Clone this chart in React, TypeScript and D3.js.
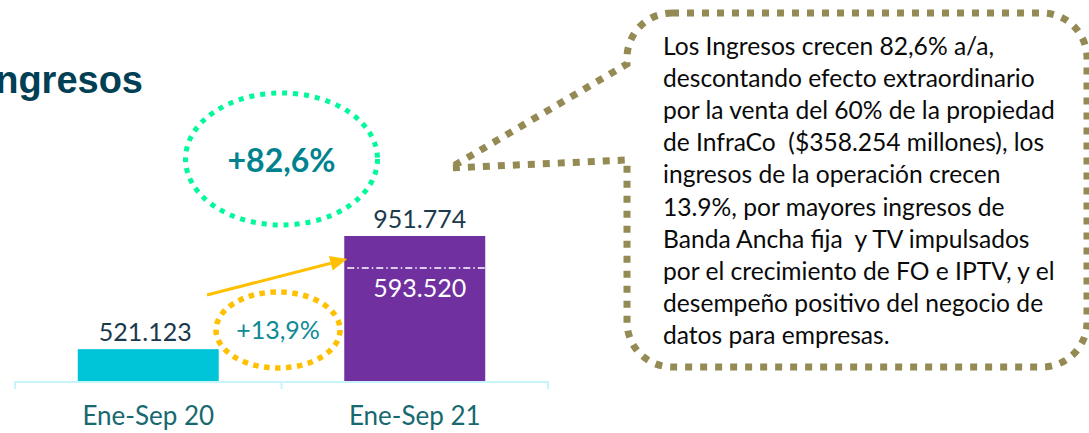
import React from "react";
import * as d3 from "d3";

const categories = ["Ene-Sep 20", "Ene-Sep 21"];
const values = [521.123, 951.774];
const valueLabels = ["521.123", "951.774"];
const operatingLabel = "593.520";
const totalGrowth = "+82,6%";
const operatingGrowth = "+13,9%";
const titleText = "Ingresos";
const calloutLines = [
  "Los Ingresos crecen 82,6% a/a,",
  "descontando efecto extraordinario",
  "por la venta del 60% de la propiedad",
  "de InfraCo  ($358.254 millones), los",
  "ingresos de la operación crecen",
  "13.9%, por mayores ingresos de",
  "Banda Ancha fija  y TV impulsados",
  "por el crecimiento de FO e IPTV, y el",
  "desempeño positivo del negocio de",
  "datos para empresas.",
];
const barColors = ["#00C4D8", "#7030A0"];

const W = 1089;
const H = 433;
const FONT = "Lato, 'Open Sans', sans-serif";

export default function App() {
  const x = d3
    .scaleBand<string>()
    .domain(categories)
    .range([15, 548])
    .paddingInner(0.471)
    .paddingOuter(0.2355);
  const y = d3.scaleLinear().domain([400, 951.774]).range([381, 236]);
  const base = y(400);
  const step = x.step();
  const edges = [15, 15 + step, 15 + 2 * step];

  // callout shape
  const L = 627, T = 13, R = 1087, B = 367, r = 45;
  const p = d3.path();
  p.moveTo(L + r, T);
  p.lineTo(R - r, T);
  p.arcTo(R, T, R, T + r, r);
  p.lineTo(R, B - r);
  p.arcTo(R, B, R - r, B, r);
  p.lineTo(L + r, B);
  p.arcTo(L, B, L, B - r, r);
  p.lineTo(L, 160);
  p.lineTo(450, 168);
  p.lineTo(L, 64);
  p.lineTo(L, T + r);
  p.arcTo(L, T, L + r, T, r);
  p.closePath();

  const b2x = x(categories[1])!;
  const bw = x.bandwidth();
  const top2 = y(values[1]);
  const dashY = top2 + (base - top2) * 0.22;

  // arrow
  const ax0 = 207, ay0 = 295, ax1 = b2x + 3, ay1 = 259;
  const ang = Math.atan2(ay1 - ay0, ax1 - ax0);
  const hl = 17, hw = 7.5;
  const bx = ax1 - hl * Math.cos(ang), by = ay1 - hl * Math.sin(ang);
  const head = [
    [ax1, ay1],
    [bx + hw * Math.sin(ang), by - hw * Math.cos(ang)],
    [bx - hw * Math.sin(ang), by + hw * Math.cos(ang)],
  ];

  return (
    <div style={{ position: "fixed", left: 0, top: 0 }}>
      <svg width={W} height={H} style={{ display: "block", background: "#fff" }}>
        {/* title (cut at the left edge as in the source slide) */}
        <text
          x={143}
          y={93}
          textAnchor="end"
          fontFamily="'Liberation Sans', Arial, sans-serif"
          fontWeight="bold"
          fontSize={38}
          fill="#003F54"
        >
          {titleText}
        </text>

        {/* green ellipse */}
        <ellipse
          cx={edges[1]}
          cy={159}
          rx={96}
          ry={66}
          fill="none"
          stroke="#00F99A"
          strokeWidth={5}
          strokeDasharray="5 6"
        />
        <text
          x={edges[1]}
          y={172}
          textAnchor="middle"
          fontFamily={FONT}
          fontWeight="bold"
          fontSize={32}
          fill="#00838F"
        >
          {totalGrowth}
        </text>

        {/* bars */}
        {categories.map((c, i) => (
          <rect
            key={c}
            x={x(c)}
            y={y(values[i])}
            width={bw}
            height={base - y(values[i])}
            fill={barColors[i]}
          />
        ))}

        {/* axis */}
        <line x1={edges[0]} x2={edges[2]} y1={382} y2={382} stroke="#C8F4FB" strokeWidth={2} />
        {edges.map((e, i) => (
          <line key={i} x1={e} x2={e} y1={381} y2={389} stroke="#C8F4FB" strokeWidth={2} />
        ))}
        {categories.map((c) => (
          <text
            key={c}
            x={x(c)! + bw / 2}
            y={425}
            textAnchor="middle"
            fontFamily={FONT}
            fontSize={26}
            fill="#17686F"
          >
            {c}
          </text>
        ))}

        {/* value labels */}
        {categories.map((c, i) => (
          <text
            key={c}
            x={x(c)! + bw / 2 + (i === 0 ? -3 : 5)}
            y={y(values[i]) - 8}
            textAnchor="middle"
            fontFamily={FONT}
            fontSize={25}
            fill="#1B3A4B"
          >
            {valueLabels[i]}
          </text>
        ))}

        {/* dash-dot line in bar 2 */}
        <line
          x1={b2x + 3}
          x2={b2x + bw}
          y1={dashY}
          y2={dashY}
          stroke="#fff"
          strokeWidth={1.5}
          strokeDasharray="7 3 1.5 3"
        />
        <text
          x={b2x + bw / 2 + 5}
          y={297}
          textAnchor="middle"
          fontFamily={FONT}
          fontSize={25}
          fill="#fff"
        >
          {operatingLabel}
        </text>

        {/* arrow */}
        <line x1={ax0} y1={ay0} x2={bx} y2={by} stroke="#FFC000" strokeWidth={3} />
        <polygon points={head.map((q) => q.join(",")).join(" ")} fill="#FFC000" />

        {/* yellow ellipse */}
        <ellipse
          cx={278}
          cy={330}
          rx={62}
          ry={38}
          fill="none"
          stroke="#FFC000"
          strokeWidth={5.5}
          strokeDasharray="5.5 5.5"
        />
        <text
          x={278}
          y={339}
          textAnchor="middle"
          fontFamily={FONT}
          fontSize={25}
          fill="#0E8A96"
        >
          {operatingGrowth}
        </text>

        {/* callout */}
        <path
          d={p.toString()}
          fill="#fff"
          stroke="#948A54"
          strokeWidth={7}
          strokeDasharray="7 8"
          strokeLinejoin="miter"
        />
        {calloutLines.map((l, i) => (
          <text
            key={i}
            x={663}
            y={55 + i * 32.1}
            fontFamily={FONT}
            fontSize={24.6}
            fill="#0A0A0A"
            xmlSpace="preserve"
            style={{ whiteSpace: "pre" }}
          >
            {l}
          </text>
        ))}
      </svg>
    </div>
  );
}
